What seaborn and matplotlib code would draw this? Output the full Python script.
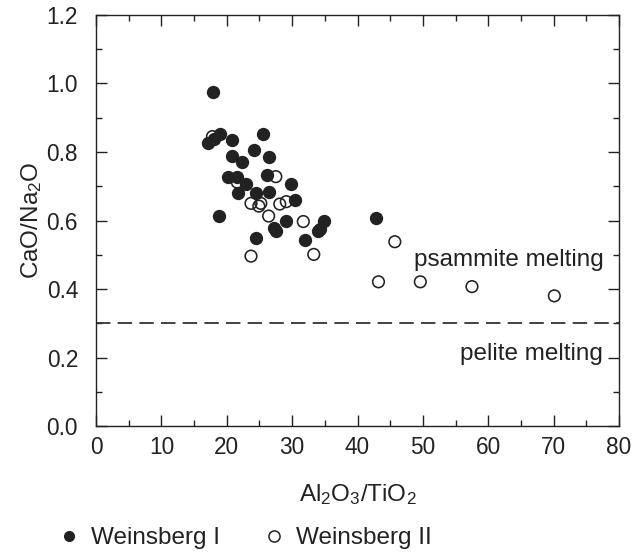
import matplotlib
matplotlib.use("Agg")
import matplotlib.pyplot as plt
from matplotlib.lines import Line2D
from matplotlib.ticker import MultipleLocator
import seaborn as sns
import pandas as pd

# Weinsberg I granite samples (filled symbols)
w1_al_ti = [17.9, 17.1, 18.0, 18.9, 20.8, 25.5, 24.2, 20.8, 22.3, 26.4,
            20.2, 21.5, 23.0, 26.1, 29.8, 21.7, 24.4, 26.4, 30.4, 18.8,
            29.1, 34.9, 27.2, 27.5, 33.9, 34.3, 32.0, 24.4, 42.8]
w1_ca_na = [0.976, 0.825, 0.838, 0.852, 0.835, 0.853, 0.806, 0.789, 0.770, 0.784,
            0.728, 0.728, 0.707, 0.733, 0.707, 0.681, 0.679, 0.684, 0.660, 0.613,
            0.600, 0.600, 0.577, 0.570, 0.570, 0.575, 0.543, 0.548, 0.608]

# Weinsberg II granite samples (open symbols)
w2_al_ti = [17.8, 21.6, 27.5, 23.7, 24.9, 25.2, 28.1, 29.1, 26.4, 31.7,
            23.7, 33.3, 45.7, 43.2, 49.6, 57.5, 70.1]
w2_ca_na = [0.845, 0.712, 0.728, 0.650, 0.642, 0.650, 0.648, 0.655, 0.613, 0.597,
            0.496, 0.501, 0.538, 0.421, 0.421, 0.407, 0.380]

boundary_ca_na = 0.3
series_labels = ["Weinsberg I", "Weinsberg II"]
field_labels = ["psammite melting", "pelite melting"]

sns.set_theme(style="ticks")
plt.rcParams["font.family"] = ["Liberation Sans", "DejaVu Sans"]
plt.rcParams["mathtext.fontset"] = "custom"
plt.rcParams["mathtext.rm"] = "Liberation Sans"
plt.rcParams["mathtext.default"] = "regular"

ink = "#222222"
fs = 17.5      # titles, legend, field labels
fs_tick = 16.3

df1 = pd.DataFrame({"x": w1_al_ti, "y": w1_ca_na})
df2 = pd.DataFrame({"x": w2_al_ti, "y": w2_ca_na})

fig = plt.figure(figsize=(6.32, 5.55), dpi=100)
ax = fig.add_axes([0.152, 0.2324, 0.8275, 0.7406])

sns.scatterplot(data=df2, x="x", y="y", ax=ax, marker="o", s=70,
                facecolor="none", edgecolor=ink, linewidth=1.15, zorder=3)
sns.scatterplot(data=df1, x="x", y="y", ax=ax, marker="o", s=92,
                color=ink, edgecolor=ink, linewidth=0, zorder=4)

ax.axhline(boundary_ca_na, color="#333333", lw=1.3, ls=(0, (8, 4)), zorder=2)

ax.text(77.6, 0.485, field_labels[0], ha="right", va="center",
        fontsize=fs, color=ink)
ax.text(77.6, 0.21, field_labels[1], ha="right", va="center",
        fontsize=fs, color=ink)

ax.set_xlim(0, 80)
ax.set_ylim(0, 1.2)
ax.xaxis.set_major_locator(MultipleLocator(10))
ax.xaxis.set_minor_locator(MultipleLocator(5))
ax.yaxis.set_major_locator(MultipleLocator(0.2))
ax.yaxis.set_minor_locator(MultipleLocator(0.1))
ax.set_yticklabels([f"{v:.1f}" for v in ax.get_yticks()])

ax.tick_params(which="both", direction="in", top=True, right=True,
               color=ink, width=1.0, labelsize=fs_tick, labelcolor=ink)
ax.tick_params(which="major", length=8)
ax.tick_params(which="minor", length=4)
ax.tick_params(axis="x", which="major", pad=7)
ax.tick_params(axis="y", which="major", pad=13)
for sp in ax.spines.values():
    sp.set_color(ink)
    sp.set_linewidth(1.0)

ax.set_xlabel("Al$_2$O$_3$/TiO$_2$", fontsize=fs, color=ink, labelpad=17)
ax.set_ylabel("CaO/Na$_2$O", fontsize=fs, color=ink, labelpad=2)

handles = [
    Line2D([], [], ls="none", marker="o", markersize=8, color=ink, markeredgewidth=0),
    Line2D([], [], ls="none", marker="o", markersize=8, markerfacecolor="none",
           markeredgecolor=ink, markeredgewidth=1.1),
]
fig.legend(handles, series_labels, loc="center left", bbox_to_anchor=(0.0707, 0.03),
           ncol=2, frameon=False, fontsize=fs, labelcolor=ink,
           handletextpad=0.4, columnspacing=1.73, handlelength=1.0, borderpad=0)

fig.savefig("out.png", dpi=100)
